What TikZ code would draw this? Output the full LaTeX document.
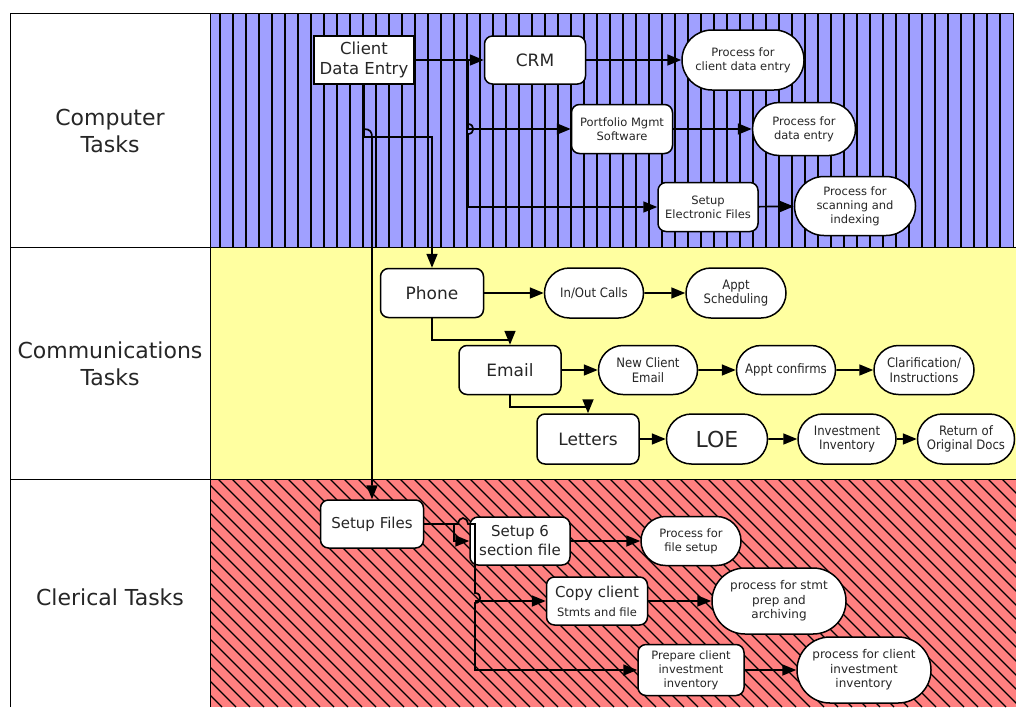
\documentclass[tikz,border=0pt]{standalone}
\usepackage{fontspec}
\setmainfont{DejaVu Sans}
\newfontfamily\condsans{DejaVu Sans Condensed}
\usetikzlibrary{arrows.meta,shapes.misc}

\definecolor{lanecomp}{RGB}{160,160,255}
\definecolor{lanecomm}{RGB}{255,255,160}
\definecolor{lanecler}{RGB}{255,128,128}

\begin{document}
\begin{tikzpicture}[
    x = 1pt, y = -1pt, % one unit per pixel, y pointing down
    > = {Triangle[length=14pt,width=11pt]}, % arrow head style
    line join = miter,
    text = black!85
  ]

  \tikzstyle{flow}=[->, line width=1.7pt, black]
  \tikzstyle{box}=[rectangle, rounded corners=8pt, draw=black, line width=1.5pt, fill=white, align=center, inner sep=1pt]
  \tikzstyle{entry}=[box, rounded corners=0pt]
  \tikzstyle{proc}=[rounded rectangle, draw=black, line width=1.5pt, fill=white, align=center, inner sep=1pt]
  \tikzstyle{txtxl}=[font=\fontsize{22}{27}\selectfont]
  \tikzstyle{txtl}=[font=\fontsize{17}{20}\selectfont]
  \tikzstyle{txtm}=[font=\fontsize{15}{19}\selectfont]
  \tikzstyle{txts}=[font=\fontsize{11.5}{14}\selectfont]
  \tikzstyle{txtc}=[font=\condsans\fontsize{13}{14.5}\selectfont]
  \tikzstyle{hatch}=[line width=1.3pt, black]

  \useasboundingbox (0,0) rectangle (1016,707);
  \fill[white] (0,0) rectangle (1016,707);

  % lanes
  \fill[lanecomp] (210,13) rectangle (1013,247);
  \foreach \x in {0,...,60}
    \draw[hatch] (220+13*\x,13) -- (220+13*\x,247);
  \fill[lanecomm] (210,247) rectangle (1016,479);
  \fill[lanecler] (210,479) rectangle (1016,707);
  \begin{scope}
    \clip (210,479) rectangle (1016,707);
    \foreach \x in {0,...,74}
      \draw[hatch] (-20+14*\x,479) -- (208+14*\x,707);
  \end{scope}
  \draw[line width=0.8pt] (10,707) -- (10,13) -- (1013,13) -- (1013,247);
  \draw[line width=0.8pt] (210,13) -- (210,707);
  \draw[line width=0.8pt] (10,247) -- (1016,247);
  \draw[line width=0.8pt] (10,479) -- (1016,479);

  \node[txtxl, align=center] (lcomp) at (110,131) {Computer\\Tasks};
  \node[txtxl, align=center] (lcomm) at (110,364) {Communications\\Tasks};
  \node[txtxl] (lcler) at (110,597) {Clerical Tasks};

  % computer tasks
  \node[entry, font=\fontsize{16.5}{20}\selectfont, minimum width=100pt, minimum height=48pt] (cde) at (364,60) {Client\\Data Entry};
  \node[box, txtl, minimum width=101pt, minimum height=48pt] (crm) at (535,60) {CRM};
  \node[proc, txts, minimum width=124pt, minimum height=60pt] (pcd) at (743,60) {Process for\\client data entry};
  \node[box, txts, minimum width=101pt, minimum height=49pt] (pms) at (622,129) {Portfolio Mgmt\\Software};
  \node[proc, txts, minimum width=105pt, minimum height=53pt] (pde) at (804,129) {Process for\\data entry};
  \node[box, txts, minimum width=100pt, minimum height=49pt] (sef) at (708,207) {Setup\\Electronic Files};
  \node[proc, txts, minimum width=123pt, minimum height=59pt] (psi) at (855,206) {Process for\\scanning and\\indexing};

  % communications tasks
  \node[box, txtl, minimum width=103pt, minimum height=49pt] (phone) at (432,293) {Phone};
  \node[proc, txtc, minimum width=101pt, minimum height=50pt] (calls) at (594,293) {In/Out Calls};
  \node[proc, txtc, minimum width=102pt, minimum height=50pt] (sched) at (736,293) {Appt\\Scheduling};
  \node[box, txtl, minimum width=102pt, minimum height=49pt] (email) at (510,370) {Email};
  \node[proc, txtc, minimum width=101pt, minimum height=49pt] (newc) at (648,370) {New Client\\Email};
  \node[proc, txtc, minimum width=101pt, minimum height=49pt] (confirm) at (786,370) {Appt confirms};
  \node[proc, txtc, minimum width=102pt, minimum height=49pt] (clar) at (924,370) {Clarification/\\Instructions};
  \node[box, txtl, minimum width=102pt, minimum height=50pt] (letters) at (588,439) {Letters};
  \node[proc, txtxl, minimum width=103pt, minimum height=50pt] (loe) at (717,439) {LOE};
  \node[proc, txtc, minimum width=100pt, minimum height=50pt] (inv) at (847,439) {Investment\\Inventory};
  \node[proc, txtc, minimum width=99pt, minimum height=50pt] (ret) at (966,439) {Return of\\Original Docs};

  % clerical tasks
  \node[box, txtm, minimum width=103pt, minimum height=48pt] (sfl) at (372,524) {Setup Files};
  \node[box, txtm, minimum width=100pt, minimum height=48pt] (six) at (520,541) {Setup 6\\section file};
  \node[proc, txts, minimum width=102pt, minimum height=49pt] (pfs) at (691,541) {Process for\\file setup};
  \node[box, txtm, minimum width=101pt, minimum height=48pt] (copy) at (597,601) {Copy client\\{\fontsize{11.5}{14}\selectfont Stmts and file}};
  \node[proc, font=\fontsize{12}{14.5}\selectfont, minimum width=136pt, minimum height=66pt] (pspa) at (779,601) {process for stmt\\prep and\\archiving};
  \node[box, txts, minimum width=106pt, minimum height=51pt] (prep) at (691,670) {Prepare client\\investment\\inventory};
  \node[proc, font=\fontsize{12}{14.5}\selectfont, minimum width=136pt, minimum height=66pt] (pcii) at (864,670) {process for client\\investment\\inventory};

  % connectors, computer lane
  \draw[flow] (cde.east) -- (crm.west);
  \draw[flow] (cde.east) -| (468,129) -- (pms.west);
  \draw[flow] (468,60) -- (468,124) .. controls (475,124) and (475,134) .. (468,134) |- (sef.west);
  \draw[flow] (crm) -- (pcd);
  \draw[flow] (pms) -- (pde);
  \draw[flow] (sef) -- (psi);

  % from client data entry down
  \draw[flow] (cde.south) -- (364,137) -| (phone.north);
  \draw[flow] (cde.south) -- (364,129) .. controls (370,129) and (372,132) .. (372,137) -- (sfl.north);

  % connectors, communications lane
  \draw[flow] (phone) -- (calls);
  \draw[flow] (calls) -- (sched);
  \draw[flow] (phone.south) -- ++(0,22) -| (email.north);
  \draw[flow] (email) -- (newc);
  \draw[flow] (newc) -- (confirm);
  \draw[flow] (confirm) -- (clar);
  \draw[flow] (email.south) -- ++(0,12) -| (letters.north);
  \draw[flow] (letters) -- (loe);
  \draw[flow] (loe) -- (inv);
  \draw[flow] (inv) -- (ret);

  % connectors, clerical lane
  \draw[flow] (sfl.east) -- (454,524) |- (six.west);
  \draw[flow] (sfl.east) -- (458,524) .. controls (459,516) and (467,516) .. (468,524) -- (475,524)
    -- (475,593) .. controls (482,593) and (482,603) .. (475,603) |- (prep.west);
  \draw[flow] (475,601) -- (copy.west);
  \draw[flow] (six) -- (pfs);
  \draw[flow] (copy) -- (pspa);
  \draw[flow] (prep) -- (pcii);

\end{tikzpicture}
\end{document}
